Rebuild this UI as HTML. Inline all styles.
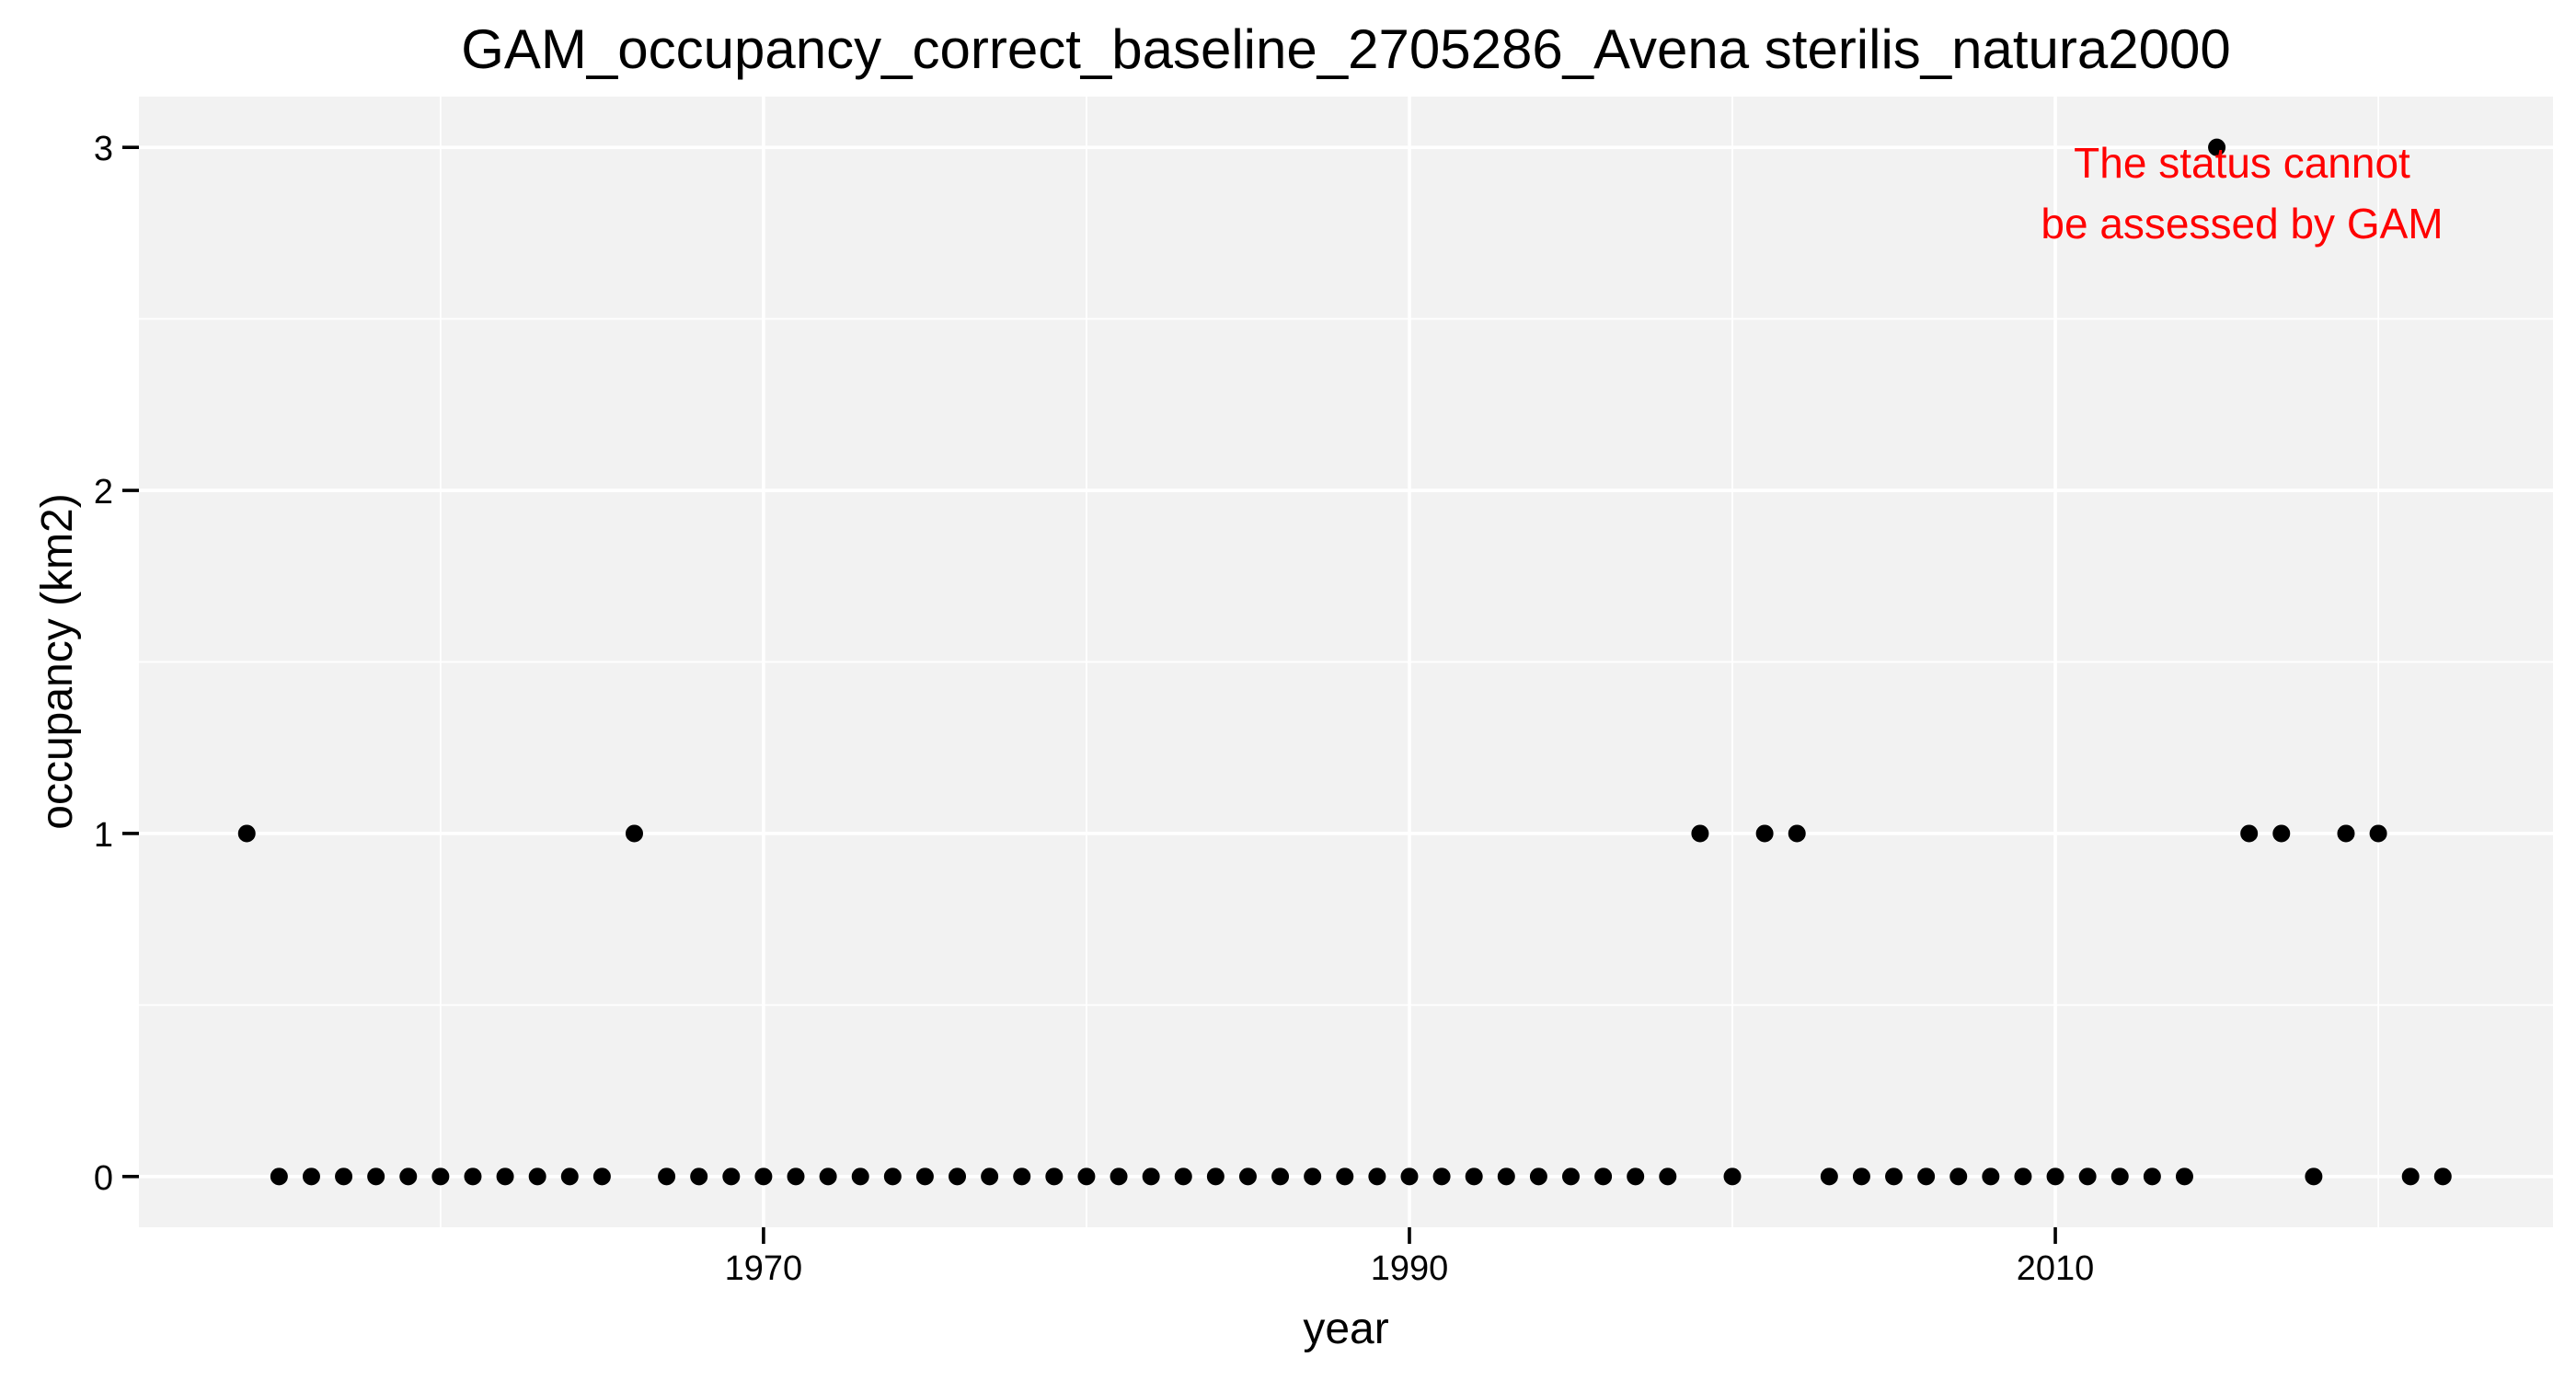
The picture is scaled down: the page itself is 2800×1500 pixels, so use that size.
<!DOCTYPE html>
<html><head><meta charset="utf-8"><style>
html,body{margin:0;padding:0;background:#fff;}
svg{display:block;font-family:"Liberation Sans",Arial,sans-serif;}
</style></head><body>
<svg id="chart" width="2800" height="1500" viewBox="0 0 2800 1500" xmlns="http://www.w3.org/2000/svg">
<rect x="0" y="0" width="2800" height="1500" fill="#fff"/>
<text x="1463" y="74" font-size="60" text-anchor="middle" fill="#000">GAM_occupancy_correct_baseline_2705286_Avena sterilis_natura2000</text>
<rect x="151" y="105" width="2624" height="1229" fill="#f2f2f2"/>
<g id="grid"></g>
<g id="points"></g>
<g id="axes"></g>
<text x="2437" y="193" font-size="46" text-anchor="middle" fill="#ff0000">The status cannot</text>
<text x="2437" y="259" font-size="46" text-anchor="middle" fill="#ff0000">be assessed by GAM</text>
<text x="1463" y="1460" font-size="48" text-anchor="middle" fill="#000">year</text>
<text x="0" y="0" font-size="48" text-anchor="middle" fill="#000" transform="translate(78,719) rotate(-90)">occupancy (km2)</text>
</svg>
<script>
const years = [1954,1955,1956,1957,1958,1959,1960,1961,1962,1963,1964,1965,1966,1967,1968,1969,1970,1971,1972,1973,1974,1975,1976,1977,1978,1979,1980,1981,1982,1983,1984,1985,1986,1987,1988,1989,1990,1991,1992,1993,1994,1995,1996,1997,1998,1999,2000,2001,2002,2003,2004,2005,2006,2007,2008,2009,2010,2011,2012,2013,2014,2015,2016,2017,2018,2019,2020,2021,2022];
const occupancy = [1,0,0,0,0,0,0,0,0,0,0,0,1,0,0,0,0,0,0,0,0,0,0,0,0,0,0,0,0,0,0,0,0,0,0,0,0,0,0,0,0,0,0,0,0,1,0,1,1,0,0,0,0,0,0,0,0,0,0,0,0,3,1,1,0,1,1,0,0];
const xTicks = [1970,1990,2010];
const xMinor = [1960,1980,2000,2020];
const yTicks = [0,1,2,3];
const yMinor = [0.5,1.5,2.5];

const NS = "http://www.w3.org/2000/svg";
const L = 151, R = 2775, T = 105, B = 1334;
const xDom = [1950.66, 2025.41], yDom = [-0.148, 3.148];
function sx(v){ return L + (v - xDom[0]) / (xDom[1] - xDom[0]) * (R - L); }
function sy(v){ return B - (v - yDom[0]) / (yDom[1] - yDom[0]) * (B - T); }
function mk(tag, attrs, parent){
  const e = document.createElementNS(NS, tag);
  for (const k in attrs) e.setAttribute(k, attrs[k]);
  parent.appendChild(e);
  return e;
}
const grid = document.getElementById('grid');
const pts = document.getElementById('points');
const axes = document.getElementById('axes');

yMinor.forEach(v => {
  const l = mk('line', {x1:L, x2:R, y1:sy(v), y2:sy(v), stroke:'#fff', 'stroke-width':1.8}, grid);
  
  
});
xMinor.forEach(v => {
  const l = mk('line', {x1:sx(v), x2:sx(v), y1:T, y2:B, stroke:'#fff', 'stroke-width':1.8}, grid);
  
  
});
yTicks.forEach(v => {
  const l = mk('line', {x1:L, x2:R, y1:sy(v), y2:sy(v), stroke:'#fff', 'stroke-width':3.6}, grid);
  
  
  const t = mk('line', {x1:L-18, x2:L, y1:sy(v), y2:sy(v), stroke:'#000', 'stroke-width':3.6}, axes);
  
  
  const tx = mk('text', {x:L-28, y:sy(v)+14, 'font-size':38, 'text-anchor':'end', fill:'#000'}, axes);
  tx.textContent = String(v);
  
  
});
xTicks.forEach(v => {
  const l = mk('line', {x1:sx(v), x2:sx(v), y1:T, y2:B, stroke:'#fff', 'stroke-width':3.6}, grid);
  
  
  const t = mk('line', {x1:sx(v), x2:sx(v), y1:B, y2:B+18, stroke:'#000', 'stroke-width':3.6}, axes);
  
  
  const tx = mk('text', {x:sx(v), y:B+57, 'font-size':38, 'text-anchor':'middle', fill:'#000'}, axes);
  tx.textContent = String(v);
  
  
});
years.forEach((yr, i) => {
  const c = mk('circle', {cx:sx(yr), cy:sy(occupancy[i]), r:9.5, fill:'#000'}, pts);
  
  
});
</script>
</body></html>
